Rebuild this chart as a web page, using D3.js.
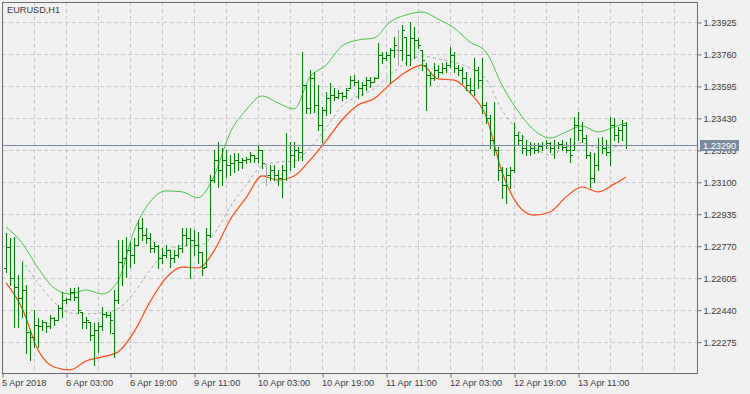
<!DOCTYPE html>
<html>
<head>
<meta charset="utf-8">
<script src="https://cdn.jsdelivr.net/npm/d3@7"></script>
<style>
  body { margin: 0; background: #f0f0f0; }
  svg { display: block; font-family: 'Liberation Sans', Arial, sans-serif; }
</style>
</head>
<body>
<svg></svg>
<script>
// EURUSD H1 bar chart with envelope bands
const SVG = d3.select('svg');
const SVG_WIDTH = 750;
const SVG_HEIGHT = 394;
const PLOT_LEFT = 2;
const PLOT_TOP = 2;
const PLOT_RIGHT = 697;
const PLOT_BOTTOM = 373;

//Data
const chartTitle = 'EURUSD,H1';
const lastPrice = 1.23290;

const opens = [
  1.22655,1.22764,1.22604,1.22557,1.22501,1.22542,1.22325,1.22299,1.22361,1.22356,
  1.22377,1.22356,1.22397,1.22387,1.22449,1.22490,1.22496,1.22532,1.22506,1.22428,
  1.22377,1.22377,1.22309,1.22335,1.22356,1.22417,1.22412,1.22320,1.22490,1.22686,
  1.22707,1.22748,1.22722,1.22774,1.22862,1.22825,1.22810,1.22759,1.22769,1.22707,
  1.22722,1.22748,1.22707,1.22722,1.22759,1.22825,1.22810,1.22800,1.22774,1.22738,
  1.22660,1.22825,1.23109,1.23212,1.23161,1.23212,1.23186,1.23197,1.23212,1.23202,
  1.23212,1.23217,1.23238,1.23223,1.23264,1.23135,1.23135,1.23161,1.23135,1.23120,
  1.23161,1.23290,1.23238,1.23264,1.23254,1.23599,1.23481,1.23636,1.23496,1.23393,
  1.23470,1.23533,1.23548,1.23538,1.23559,1.23543,1.23584,1.23625,1.23615,1.23584,
  1.23599,1.23625,1.23615,1.23636,1.23754,1.23739,1.23754,1.23780,1.23780,1.23780,
  1.23847,1.23754,1.23842,1.23832,1.23780,1.23703,1.23651,1.23636,1.23677,1.23667,
  1.23687,1.23703,1.23754,1.23687,1.23677,1.23636,1.23599,1.23574,1.23677,1.23625,
  1.23496,1.23429,1.23316,1.23264,1.23161,1.23083,1.23135,1.23161,1.23341,1.23316,
  1.23275,1.23264,1.23275,1.23264,1.23285,1.23290,1.23301,1.23275,1.23290,1.23295,
  1.23280,1.23264,1.23264,1.23393,1.23367,1.23326,1.23238,1.23120,1.23186,1.23290,
  1.23275,1.23254,1.23393,1.23341,1.23367,1.23393
];
const highs = [
  1.22836,1.22810,1.22815,1.22619,1.22686,1.22567,1.22335,1.22438,1.22397,1.22387,
  1.22377,1.22412,1.22402,1.22464,1.22532,1.22501,1.22552,1.22552,1.22557,1.22428,
  1.22402,1.22377,1.22372,1.22377,1.22454,1.22428,1.22428,1.22542,1.22800,1.22800,
  1.22815,1.22790,1.22810,1.22903,1.22913,1.22862,1.22836,1.22790,1.22774,1.22759,
  1.22774,1.22748,1.22748,1.22774,1.22862,1.22862,1.22862,1.22851,1.22841,1.22738,
  1.22862,1.23135,1.23264,1.23306,1.23275,1.23264,1.23238,1.23249,1.23249,1.23223,
  1.23228,1.23254,1.23238,1.23290,1.23264,1.23186,1.23186,1.23186,1.23161,1.23186,
  1.23352,1.23306,1.23306,1.23280,1.23770,1.23599,1.23677,1.23667,1.23599,1.23486,
  1.23564,1.23610,1.23584,1.23574,1.23564,1.23584,1.23646,1.23651,1.23625,1.23615,
  1.23640,1.23640,1.23640,1.23817,1.23770,1.23770,1.23791,1.23847,1.23883,1.23909,
  1.23847,1.23925,1.23899,1.23842,1.23780,1.23713,1.23667,1.23713,1.23703,1.23713,
  1.23718,1.23796,1.23770,1.23703,1.23692,1.23667,1.23636,1.23739,1.23692,1.23739,
  1.23512,1.23444,1.23512,1.23280,1.23176,1.23171,1.23176,1.23404,1.23357,1.23341,
  1.23316,1.23306,1.23301,1.23301,1.23306,1.23316,1.23306,1.23316,1.23306,1.23316,
  1.23306,1.23326,1.23434,1.23460,1.23409,1.23341,1.23254,1.23249,1.23326,1.23331,
  1.23316,1.23434,1.23429,1.23383,1.23419,1.23409
];
const lows = [
  1.22635,1.22567,1.22351,1.22351,1.22402,1.22217,1.22180,1.22248,1.22248,1.22335,
  1.22325,1.22346,1.22361,1.22387,1.22402,1.22475,1.22490,1.22490,1.22423,1.22346,
  1.22346,1.22284,1.22154,1.22222,1.22335,1.22402,1.22320,1.22196,1.22475,1.22567,
  1.22609,1.22660,1.22681,1.22774,1.22800,1.22785,1.22738,1.22738,1.22655,1.22681,
  1.22712,1.22660,1.22686,1.22712,1.22738,1.22774,1.22604,1.22722,1.22681,1.22619,
  1.22660,1.22815,1.23099,1.23073,1.23083,1.23125,1.23135,1.23151,1.23161,1.23171,
  1.23197,1.23202,1.23202,1.23202,1.23171,1.23083,1.23109,1.23109,1.23083,1.23022,
  1.23109,1.23161,1.23176,1.23212,1.23212,1.23455,1.23455,1.23460,1.23367,1.23306,
  1.23444,1.23455,1.23522,1.23533,1.23522,1.23533,1.23584,1.23599,1.23533,1.23548,
  1.23574,1.23589,1.23615,1.23636,1.23713,1.23728,1.23615,1.23744,1.23703,1.23728,
  1.23703,1.23703,1.23739,1.23791,1.23677,1.23470,1.23599,1.23625,1.23640,1.23662,
  1.23667,1.23692,1.23667,1.23651,1.23610,1.23574,1.23559,1.23548,1.23584,1.23455,
  1.23404,1.23275,1.23238,1.23109,1.23017,1.22990,1.23068,1.23151,1.23290,1.23249,
  1.23238,1.23238,1.23249,1.23254,1.23264,1.23275,1.23254,1.23223,1.23275,1.23264,
  1.23254,1.23202,1.23264,1.23316,1.23306,1.23223,1.23073,1.23099,1.23161,1.23249,
  1.23238,1.23186,1.23316,1.23306,1.23316,1.23275
];
const closes = [
  1.22764,1.22604,1.22557,1.22501,1.22542,1.22325,1.22299,1.22361,1.22356,1.22377,
  1.22356,1.22397,1.22387,1.22449,1.22490,1.22496,1.22532,1.22506,1.22438,1.22377,
  1.22387,1.22309,1.22335,1.22356,1.22417,1.22412,1.22387,1.22490,1.22686,1.22707,
  1.22748,1.22722,1.22774,1.22862,1.22825,1.22810,1.22759,1.22769,1.22707,1.22722,
  1.22748,1.22707,1.22722,1.22759,1.22825,1.22810,1.22800,1.22774,1.22738,1.22655,
  1.22825,1.23109,1.23212,1.23161,1.23212,1.23186,1.23197,1.23212,1.23202,1.23212,
  1.23217,1.23238,1.23223,1.23264,1.23197,1.23135,1.23161,1.23135,1.23120,1.23161,
  1.23290,1.23238,1.23264,1.23254,1.23599,1.23481,1.23636,1.23496,1.23393,1.23470,
  1.23533,1.23548,1.23538,1.23559,1.23543,1.23574,1.23625,1.23615,1.23584,1.23599,
  1.23625,1.23615,1.23636,1.23754,1.23739,1.23754,1.23780,1.23806,1.23780,1.23883,
  1.23754,1.23842,1.23832,1.23806,1.23728,1.23651,1.23636,1.23677,1.23667,1.23687,
  1.23703,1.23754,1.23687,1.23677,1.23636,1.23599,1.23574,1.23677,1.23625,1.23496,
  1.23429,1.23316,1.23264,1.23161,1.23083,1.23135,1.23161,1.23341,1.23316,1.23275,
  1.23264,1.23275,1.23264,1.23285,1.23290,1.23301,1.23275,1.23290,1.23295,1.23280,
  1.23264,1.23238,1.23393,1.23367,1.23326,1.23238,1.23120,1.23186,1.23290,1.23275,
  1.23254,1.23393,1.23341,1.23367,1.23393,1.23290
];

//Band readings, one every 4 bars
const bandBars = [0,4,8,12,16,20,24,28,32,36,40,44,48,52,56,60,64,68,72,76,
                  80,84,88,92,96,100,104,108,112,116,120,124,128,132,136,140,144,148,152,155];
const upperBand = [
  1.22867,1.22785,1.22655,1.22552,1.22521,1.22542,1.22521,1.22588,1.22846,1.22996,
  1.23053,1.23048,1.23017,1.23130,1.23352,1.23470,1.23543,1.23507,1.23476,1.23641,
  1.23702,1.23801,1.23832,1.23842,1.23925,1.23961,1.23976,1.23940,1.23894,1.23822,
  1.23770,1.23599,1.23465,1.23367,1.23326,1.23357,1.23388,1.23357,1.23383,1.23404
];
const lowerBand = [
  1.22578,1.22449,1.22232,1.22144,1.22129,1.22175,1.22196,1.22222,1.22325,1.22480,
  1.22604,1.22660,1.22655,1.22743,1.22903,1.23017,1.23130,1.23109,1.23130,1.23212,
  1.23311,1.23419,1.23496,1.23528,1.23604,1.23667,1.23702,1.23631,1.23625,1.23559,
  1.23439,1.23151,1.22980,1.22928,1.22944,1.23022,1.23073,1.23048,1.23088,1.23125
];
const middleBand = [
  null,   1.22696,1.22578,1.22480,1.22423,1.22418,1.22423,1.22444,1.22527,1.22645,
  1.22738,1.22769,1.22769,1.22830,1.22970,1.23083,1.23181,1.23202,1.23207,1.23275,
  1.23378,1.23491,1.23543,1.23579,1.23651,1.23713,1.23749,1.23734,1.23718,1.23687,
  1.23631,1.23470,1.23367,1.23280,1.23238,1.23280,1.23301,1.23275,1.23280,1.23290
];

//Axis labels
const priceTicks = [1.22275,1.22440,1.22605,1.22770,1.22935,1.23100,1.23265,1.23430,1.23595,1.23760,1.23925];
const timeLabels = ['5 Apr 2018','6 Apr 03:00','6 Apr 19:00','9 Apr 11:00','10 Apr 03:00',
                    '10 Apr 19:00','11 Apr 11:00','12 Apr 03:00','12 Apr 19:00','13 Apr 11:00'];
const timeLabelBars = [-1,15,31,47,63,79,95,111,127,143];

//Colors
const BG_COLOR = '#f0f0f0';
const FRAME_COLOR = '#6e6e6e';
const GRID_COLOR = '#c8c8c8';
const TEXT_COLOR = '#3c3c3c';
const BAR_COLOR = '#008000';
const DOJI_COLOR = '#a0a0a0';
const UPPER_COLOR = '#46c846';
const LOWER_COLOR = '#ff4a10';
const MIDDLE_COLOR = '#a8a8a8';
const PRICE_LINE_COLOR = '#7a8ba0';

SVG.attr('width', SVG_WIDTH).attr('height', SVG_HEIGHT);
SVG.append('rect').attr('width', SVG_WIDTH).attr('height', SVG_HEIGHT).attr('fill', BG_COLOR);

//Scales
var xScale = d3.scaleLinear().domain([-1, 172.75]).range([PLOT_LEFT, PLOT_RIGHT]);
var yScale = d3.scaleLinear().domain([1.22113, 1.24028]).range([PLOT_BOTTOM, PLOT_TOP]);
var crisp = v => Math.round(v) + 0.5;

//Grid
var gridBars = d3.range(7, 172, 8);
SVG.append('g').selectAll('line')
   .data(gridBars).enter().append('line')
      .attr('x1', d => crisp(xScale(d)))
      .attr('x2', d => crisp(xScale(d)))
      .attr('y1', PLOT_TOP).attr('y2', PLOT_BOTTOM)
      .attr('stroke', GRID_COLOR).attr('stroke-dasharray', '4,3');

SVG.append('g').selectAll('line')
   .data(priceTicks).enter().append('line')
      .attr('x1', PLOT_LEFT).attr('x2', PLOT_RIGHT)
      .attr('y1', d => crisp(yScale(d)))
      .attr('y2', d => crisp(yScale(d)))
      .attr('stroke', GRID_COLOR).attr('stroke-dasharray', '4,3');

//Right price axis
var yAxis = d3.axisRight(yScale).tickValues(priceTicks).tickSize(4).tickSizeOuter(0)
              .tickFormat(d3.format('.5f'));
var yAxisG = SVG.append('g').attr('transform', `translate(${PLOT_RIGHT + 0.5}, 0.5)`).call(yAxis);
yAxisG.select('.domain').remove();
yAxisG.selectAll('line').attr('stroke', FRAME_COLOR);
yAxisG.selectAll('text').attr('x', 6).attr('fill', TEXT_COLOR)
      .style('font-size', '9.2px').style('font-family', "'Liberation Sans', Arial, sans-serif");

//Bottom time axis
var xAxis = d3.axisBottom(xScale).tickValues(timeLabelBars).tickSize(4).tickSizeOuter(0)
              .tickFormat((d, i) => timeLabels[i]);
var xAxisG = SVG.append('g').attr('transform', `translate(0.5, ${PLOT_BOTTOM + 0.5})`).call(xAxis);
xAxisG.select('.domain').remove();
xAxisG.selectAll('line').attr('stroke', FRAME_COLOR);
xAxisG.selectAll('text').attr('y', 6).attr('x', -1).attr('fill', TEXT_COLOR)
      .style('text-anchor', 'start')
      .style('font-size', '9.2px').style('font-family', "'Liberation Sans', Arial, sans-serif");

//Bands
var bandLine = d3.line()
                 .defined(d => d.value !== null)
                 .x(d => xScale(d.bar))
                 .y(d => yScale(d.value))
                 .curve(d3.curveMonotoneX);
var bandData = values => bandBars.map((bar, i) => ({bar: bar, value: values[i]}));

SVG.append('path').datum(bandData(middleBand))
   .attr('d', bandLine).attr('fill', 'none')
   .attr('stroke', MIDDLE_COLOR).attr('stroke-dasharray', '3,3');
SVG.append('path').datum(bandData(upperBand))
   .attr('d', bandLine).attr('fill', 'none').attr('stroke', UPPER_COLOR);
SVG.append('path').datum(bandData(lowerBand))
   .attr('d', bandLine).attr('fill', 'none').attr('stroke', LOWER_COLOR).attr('stroke-width', 1.2);

//OHLC bars
var bars = opens.map((open, i) => ({i: i, open: open, high: highs[i], low: lows[i], close: closes[i]}));
var barColor = d => d.open === d.close ? DOJI_COLOR : BAR_COLOR;
var barG = SVG.append('g').selectAll('g').data(bars).enter().append('g')
              .attr('stroke', barColor).attr('stroke-width', 1);
barG.append('line')
    .attr('x1', d => crisp(xScale(d.i))).attr('x2', d => crisp(xScale(d.i)))
    .attr('y1', d => Math.round(yScale(d.high))).attr('y2', d => Math.round(yScale(d.low)) + 1);
barG.append('line')
    .attr('x1', d => crisp(xScale(d.i)) - 2.5).attr('x2', d => crisp(xScale(d.i)))
    .attr('y1', d => crisp(yScale(d.open))).attr('y2', d => crisp(yScale(d.open)));
barG.append('line')
    .attr('x1', d => crisp(xScale(d.i))).attr('x2', d => crisp(xScale(d.i)) + 2.5)
    .attr('y1', d => crisp(yScale(d.close))).attr('y2', d => crisp(yScale(d.close)));

//Last price line and label
var lastY = crisp(yScale(lastPrice));
SVG.append('line').attr('x1', PLOT_LEFT).attr('x2', PLOT_RIGHT)
   .attr('y1', lastY).attr('y2', lastY).attr('stroke', PRICE_LINE_COLOR);
SVG.append('rect').attr('x', PLOT_RIGHT + 3).attr('y', lastY - 5.5)
   .attr('width', 39).attr('height', 11).attr('fill', PRICE_LINE_COLOR);
SVG.append('text').attr('x', PLOT_RIGHT + 6).attr('y', lastY + 3.5)
   .attr('fill', '#ffffff').style('font-size', '9.2px')
   .text(d3.format('.5f')(lastPrice));

//Frame and title
SVG.append('rect').attr('x', PLOT_LEFT + 0.5).attr('y', PLOT_TOP + 0.5)
   .attr('width', PLOT_RIGHT - PLOT_LEFT).attr('height', PLOT_BOTTOM - PLOT_TOP)
   .attr('fill', 'none').attr('stroke', FRAME_COLOR);

SVG.append('text').attr('x', 7).attr('y', 13)
   .attr('fill', TEXT_COLOR).style('font-size', '9.2px')
   .text(chartTitle);
</script>
</body>
</html>
